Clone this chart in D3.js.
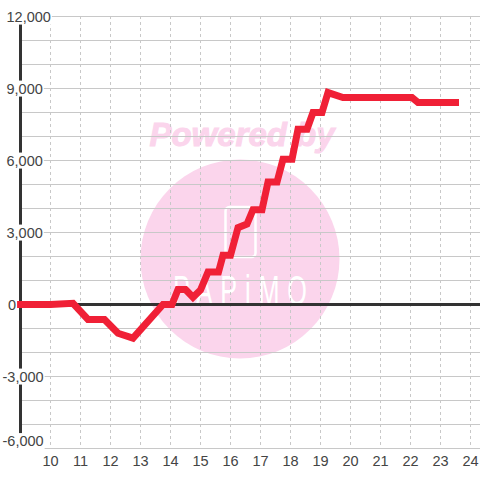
<!DOCTYPE html>
<html><head><meta charset="utf-8">
<script src="https://cdn.jsdelivr.net/npm/d3@7"></script>
<style>html,body{margin:0;padding:0;background:#fff}svg{display:block}text{font-family:"Liberation Sans",Arial,sans-serif}</style>
</head><body><svg id="c" width="480" height="480"></svg>
<script>
const hours = [9,10,10.75,11.25,11.8,12.25,12.75,13.75,14.05,14.25,14.5,14.75,15,15.25,15.6,15.75,16,16.25,16.55,16.75,17.05,17.25,17.55,17.75,18.05,18.25,18.55,18.75,19.05,19.25,19.75,22.05,22.25,23.5];
const values = [0,0,50,-625,-625,-1200,-1400,0,0,625,625,300,600,1350,1350,2050,2050,3200,3350,3950,3950,5100,5100,6050,6050,7300,7300,8000,8000,8830,8620,8620,8420,8420];
const xTicks = [10,11,12,13,14,15,16,17,18,19,20,21,22,23,24];
const yGrid = [12000,11000,10000,9000,8000,7000,6000,5000,4000,3000,2000,1000,-1000,-2000,-3000,-4000,-5000,-6000];
const yLabels = [12000,9000,6000,3000,0,-3000,-6000];

const svg = d3.select("#c");
const x = d3.scaleLinear().domain([9,24]).range([20.5,470.5]);
const y = d3.scaleLinear().domain([-6000,12000]).range([448.5,16.5]);

// watermark
const wm = svg.append("g");
wm.append("circle").attr("cx",240).attr("cy",259).attr("r",99.5).attr("fill","#fbd5ec");
wm.append("text").attr("x",242).attr("y",146).attr("text-anchor","middle")
  .attr("font-size",33).attr("font-weight","bold").attr("font-style","italic")
  .attr("fill","#fbd5ec").attr("stroke","#fbd5ec").attr("stroke-width",1).text("Powered by");
wm.append("rect").attr("x",225.5).attr("y",207).attr("width",30).attr("height",50).attr("rx",4)
  .attr("fill","none").attr("stroke","#fff").attr("stroke-width",2.5);
wm.append("text").attr("transform","translate(173,305) scale(0.6,1)")
  .attr("font-size",42).attr("textLength",223).attr("lengthAdjust","spacing")
  .attr("fill","#fff").text("PAPiMO");

// grid
svg.append("g").selectAll("line").data(yGrid).join("line")
  .attr("x1",20).attr("x2",480).attr("y1",d=>y(d)).attr("y2",d=>y(d))
  .attr("stroke","#c8c8c8").attr("stroke-width",1);
svg.append("g").selectAll("line").data(xTicks).join("line")
  .attr("x1",d=>x(d)).attr("x2",d=>x(d)).attr("y1",16).attr("y2",448)
  .attr("stroke","#c8c8c8").attr("stroke-width",1).attr("stroke-dasharray","3,3");

// axes
svg.append("line").attr("x1",20.5).attr("x2",20.5).attr("y1",y(12000)).attr("y2",y(-6000))
  .attr("stroke","#333").attr("stroke-width",3);
svg.append("line").attr("x1",20).attr("x2",480).attr("y1",y(0)).attr("y2",y(0))
  .attr("stroke","#333").attr("stroke-width",3);

// series
svg.append("path").attr("d",d3.line().x((d,i)=>x(hours[i])).y(d=>y(d))(values))
  .attr("fill","none").attr("stroke","#f02036").attr("stroke-width",7)
  .attr("stroke-linecap","square").attr("stroke-linejoin","miter");

// y labels
const fmt = d3.format(",");
const ly = svg.append("g").selectAll("g").data(yLabels).join("g")
  .attr("transform",d=>`translate(${d<0?2.5:d===0?8:6.5},${Math.min(y(d),441)})`);
ly.append("text").attr("font-size",14.5).attr("fill","#444").attr("dy","0.35em").text(d=>fmt(d).replace("\u2212","-"));
ly.each(function(){
  const g=d3.select(this), b=g.select("text").node().getBBox();
  g.insert("rect","text").attr("x",b.x-1).attr("y",b.y).attr("width",b.width+2).attr("height",b.height).attr("fill","#fff");
});

// x labels
svg.append("g").selectAll("text").data(xTicks).join("text")
  .attr("x",d=>x(d)).attr("y",466).attr("text-anchor","middle")
  .attr("font-size",14.5).attr("fill","#444").text(d=>d);
</script></body></html>
